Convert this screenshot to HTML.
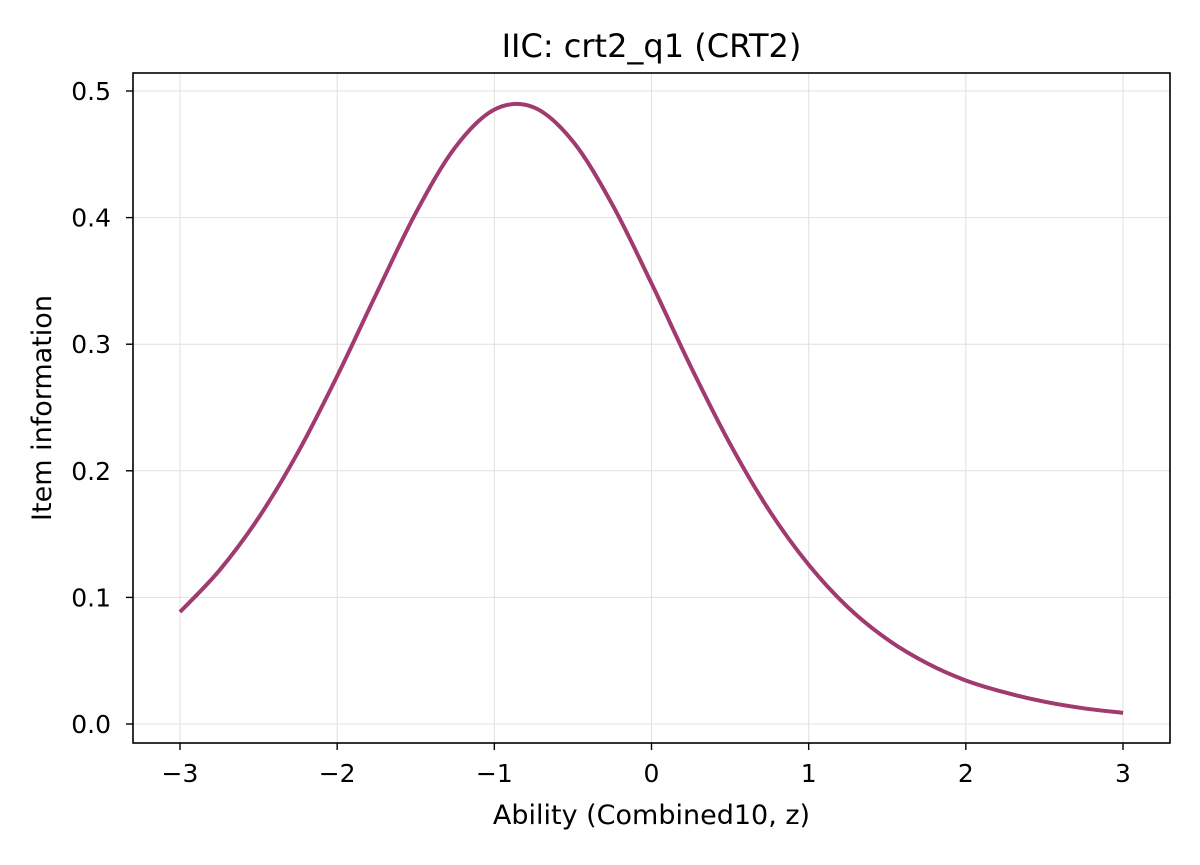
<!DOCTYPE html>
<html><head><meta charset="utf-8"><style>
body{margin:0;background:#fff;}
svg text{font-family:"DejaVu Sans","Liberation Sans",sans-serif;fill:#000;}
</style></head><body>
<svg id="chart" width="1200" height="860" viewBox="0 0 1200 860" xmlns="http://www.w3.org/2000/svg">
<rect width="1200" height="860" fill="#fff"/>
<g id="grid"></g>
<g id="ticks"></g>
<path id="curve" fill="none" stroke="#a03a6f" stroke-width="4" stroke-linejoin="round" stroke-linecap="butt"/>
<rect x="133" y="73" width="1037" height="670" fill="none" stroke="#000" stroke-width="1.6"/>
<text x="651.5" y="57" font-size="32" text-anchor="middle">IIC: crt2_q1 (CRT2)</text>
<text x="651.5" y="824" font-size="27" text-anchor="middle">Ability (Combined10, z)</text>
<text transform="translate(51,408) rotate(-90)" font-size="27" text-anchor="middle">Item information</text>
</svg>
<script>
const thetas=[-3,-2.75,-2.5,-2.25,-2,-1.75,-1.5,-1.25,-1,-0.75,-0.5,-0.25,0,0.25,0.5,0.75,1,1.25,1.5,1.75,2,2.25,2.5,2.75,3];
const infos=[0.0885,0.1212,0.1629,0.2144,0.2748,0.340,0.4036,0.4553,0.4853,0.4871,0.4602,0.4105,0.348,0.2823,0.2212,0.1685,0.1258,0.0922,0.0669,0.0482,0.0344,0.0249,0.0176,0.0124,0.0088];
const xTicks=[-3,-2,-1,0,1,2,3];
const yTicks=[0,0.1,0.2,0.3,0.4,0.5];
const yTickLabels=["0.0","0.1","0.2","0.3","0.4","0.5"];
const X=v=>651.5+v*157.17;
const Y=v=>724-v*1266;
const ns="http://www.w3.org/2000/svg";
const grid=document.getElementById('grid'),ticks=document.getElementById('ticks');
function mk(tag,attrs,parent){const e=document.createElementNS(ns,tag);for(const k in attrs)e.setAttribute(k,attrs[k]);parent.appendChild(e);return e;}
xTicks.forEach(t=>{
  const g=mk('line',{x1:X(t),x2:X(t),y1:73,y2:743,stroke:'#e0e0e0','stroke-width':1},grid);
  
  
  const tk=mk('line',{x1:X(t),x2:X(t),y1:743,y2:750,stroke:'#000','stroke-width':1.4},ticks);
  
  
  const lb=mk('text',{x:X(t),y:782,'font-size':25,'text-anchor':'middle'},ticks);
  lb.textContent=(t<0?'\u2212'+(-t):String(t));
  
  
});
yTicks.forEach((t,i)=>{
  const g=mk('line',{x1:133,x2:1170,y1:Y(t),y2:Y(t),stroke:'#e0e0e0','stroke-width':1},grid);
  
  
  const tk=mk('line',{x1:126,x2:133,y1:Y(t),y2:Y(t),stroke:'#000','stroke-width':1.4},ticks);
  
  
  const lb=mk('text',{x:111,y:Y(t)+9,'font-size':25,'text-anchor':'end'},ticks);
  lb.textContent=yTickLabels[i];
  
  
});
const pts=thetas.map((t,i)=>[X(t),Y(infos[i])]);
let d='M'+pts[0][0]+','+pts[0][1];
for(let i=0;i<pts.length-1;i++){
  const p0=pts[Math.max(0,i-1)],p1=pts[i],p2=pts[i+1],p3=pts[Math.min(pts.length-1,i+2)];
  const c1=[p1[0]+(p2[0]-p0[0])/6,p1[1]+(p2[1]-p0[1])/6];
  const c2=[p2[0]-(p3[0]-p1[0])/6,p2[1]-(p3[1]-p1[1])/6];
  d+=' C'+c1[0]+','+c1[1]+' '+c2[0]+','+c2[1]+' '+p2[0]+','+p2[1];
}
document.getElementById('curve').setAttribute('d',d);
</script>
</body></html>
